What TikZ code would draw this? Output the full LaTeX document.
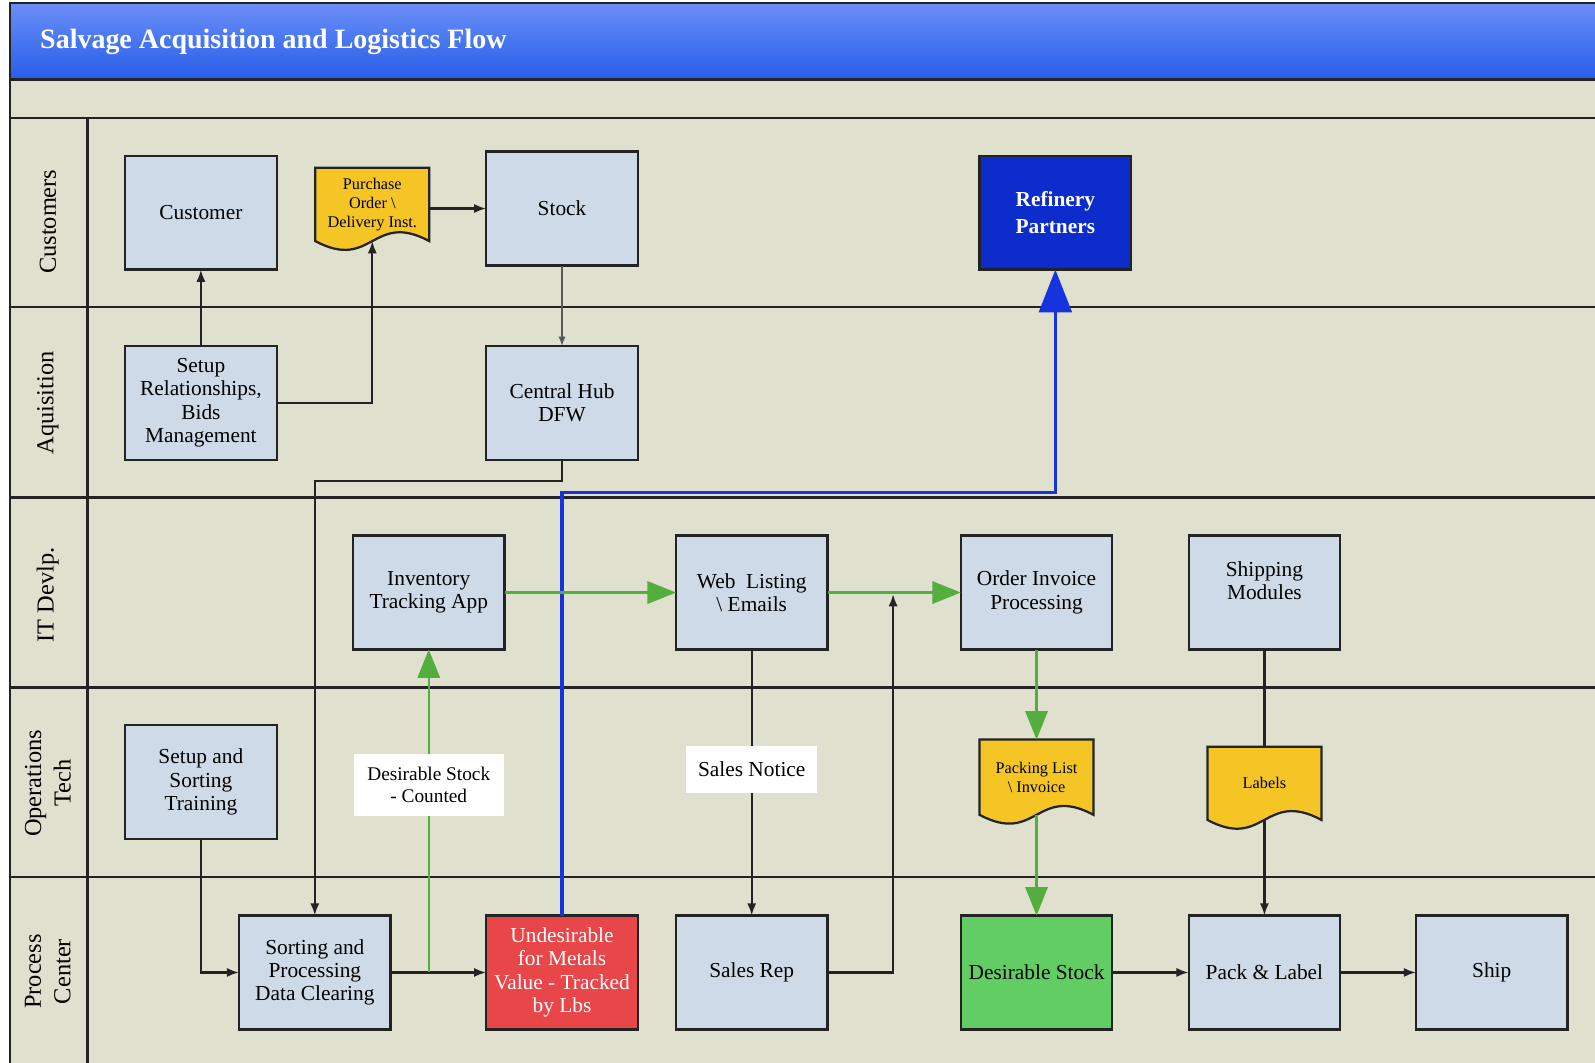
\documentclass[tikz,border=0pt]{standalone}
\usepackage{fontspec}
\setmainfont{Liberation Serif}
\usetikzlibrary{arrows.meta}
\definecolor{lanebg}{RGB}{223,224,205}
\definecolor{boxblue}{RGB}{207,218,232}
\definecolor{docyellow}{RGB}{245,197,38}
\definecolor{refblue}{RGB}{12,44,204}
\definecolor{undesred}{RGB}{232,70,72}
\definecolor{desgreen}{RGB}{98,205,99}
\definecolor{flowgreen}{RGB}{84,174,62}
\definecolor{flowblue}{RGB}{22,52,222}
\definecolor{titletop}{RGB}{106,142,246}
\definecolor{titlebot}{RGB}{38,94,234}
\definecolor{edge}{RGB}{35,35,35}
\tikzset{
  box/.style={draw=edge, line width=2.2pt, fill=boxblue, minimum width=149pt, minimum height=112pt,
    align=center, inner sep=2pt, outer sep=0pt, font=\fontsize{21}{23}\selectfont},
  doc/.style={minimum width=112pt, align=center, inner sep=2pt, outer sep=0pt, font=\fontsize{16}{19}\selectfont},
  docshape/.style={draw=edge, line width=2.2pt, fill=docyellow},
  notebox/.style={fill=white, align=center, inner sep=0pt, outer sep=0pt},
  lane/.style={rotate=90, align=center, font=\fontsize{24}{29}\selectfont},
  arr/.style={edge, line width=2.2pt, -{Latex[length=12pt,width=9pt]}},
  garr/.style={flowgreen, line width=2.2pt, -{Triangle[length=28pt,width=22pt]}},
}
% document symbol: centre x, top y, base y
\newcommand{\docpath}[3]{\draw[docshape] (#1-56,#2) -- (#1+56,#2) -- (#1+56,#3) .. controls +(-56,-30) and +(56,30) .. (#1-56,#3) -- cycle;}
\begin{document}
\begin{tikzpicture}[x=1pt,y=-1pt]
\useasboundingbox (0,0) rectangle (1568,1045);
% frame and lanes
\fill[lanebg] (10,3) rectangle (1568,1045);
\shade[top color=titletop, bottom color=titlebot] (10,3) rectangle (1568,78);
\draw[edge, line width=2.4pt] (10,1045) -- (10,3) -- (1568,3);
\draw[edge, line width=2.4pt] (10,78) -- (1568,78);
\foreach \y in {116,302,489,676,862}{
    \draw[edge, line width=2.4pt] (10,\y) -- (1568,\y);
}
\draw[edge, line width=2.4pt] (86,116) -- (86,1045);
\node[anchor=west, white, font=\fontsize{27.5}{30}\bfseries] (title) at (36,41) {Salvage Acquisition and Logistics Flow};
\node[lane] (lcust) at (47,218) {Customers};
\node[lane] (lacq) at (47,396) {Aquisition};
\node[lane] (lit) at (47,585) {IT Devlp.};
\node[lane] (lops) at (47,770) {Operations\\Tech};
\node[lane] (lproc) at (47,955) {Process\\Center};
% documents
\docpath{366}{165}{237}
\docpath{1019}{727}{801}
\docpath{1243}{734}{806}
% boxes
\node[box] (cust) at (197.5,209) {Customer};
\node[doc, minimum height=72pt] (po) at (366,201) {Purchase\\Order \textbackslash\\Delivery Inst.};
\node[box] (stock) at (552.5,205) {Stock};
\node[box, fill=refblue, text=white, font=\fontsize{21}{27}\bfseries] (refinery) at (1037.5,209) {Refinery\\Partners};
\node[box] (setup) at (197.5,396) {Setup\\Relationships,\\Bids\\Management};
\node[box] (hub) at (552.5,396) {Central Hub\\DFW};
\node[box] (inv) at (421.5,582.5) {Inventory\\Tracking App};
\node[box] (web) at (739,582.5) {Web\ \ Listing\\\textbackslash\ Emails};
\node[box] (order) at (1019,582.5) {Order Invoice\\Processing};
\node[box] (shipmod) at (1243,582.5) {Shipping\\Modules\\\mbox{}};
\node[box] (train) at (197.5,769) {Setup and\\Sorting\\Training};
\node[notebox, minimum width=147pt, minimum height=61pt, font=\fontsize{19}{21}\selectfont] (counted) at (421.5,771.5) {Desirable Stock\\- Counted};
\node[notebox, minimum width=129pt, minimum height=47pt, font=\fontsize{21}{23}\selectfont] (note) at (739,756.5) {Sales Notice};
\node[doc, minimum height=74pt] (packing) at (1019,764) {Packing List\\\textbackslash\ Invoice};
\node[doc, minimum height=72pt] (labels) at (1243,770) {Labels};
\node[box] (sort) at (309.5,956) {Sorting and\\Processing\\Data Clearing};
\node[box, fill=undesred, text=white] (undes) at (552.5,956) {Undesirable\\for Metals\\Value - Tracked\\by Lbs};
\node[box] (rep) at (739,956) {Sales Rep};
\node[box, fill=desgreen] (desir) at (1019,956) {Desirable Stock};
\node[box] (pack) at (1243,956) {Pack \& Label};
\node[box] (ship) at (1466.5,956) {Ship};
% connectors
\coordinate (meet) at (878,584);
\coordinate (fork) at (421.5,956);
\draw[arr] (setup.north) -- (cust.south);
\draw[arr] (setup.east) -| (po.south);
\draw[arr] (po.east |- stock.west) -- (stock.west);
\draw[gray!70!black, line width=1.2pt, -{Latex[length=9pt,width=7pt]}] (stock.south) -- (hub.north);
\draw[arr] (hub.south) -- ++(0,21) -| (sort.north);
\draw[flowblue, line width=3.5pt, -{Triangle[length=42pt,width=32pt]}] (undes.north) -- ++(0,-416) -| (refinery.south);
\draw[garr] (inv.east) -- (web.west);
\draw[garr] (web.east) -- (order.west);
\draw[arr] (rep.east) -| (meet);
\draw[edge, line width=2.2pt] (web.south) -- (note.north);
\draw[arr] (note.south) -- (rep.north);
\draw[garr] (order.south) -- (packing.north);
\draw[garr] (packing.south) -- (desir.north);
\draw[edge, line width=2.2pt] (shipmod.south) -- (labels.north);
\draw[arr] (labels.south) -- (pack.north);
\draw[arr] (train.south) |- (sort.west);
\draw[arr] (sort.east) -- (undes.west);
\draw[flowgreen, line width=2.2pt] (fork) -- (counted.south);
\draw[garr] (counted.north) -- (inv.south);
\draw[arr] (desir.east) -- (pack.west);
\draw[arr] (pack.east) -- (ship.west);
\end{tikzpicture}
\end{document}
